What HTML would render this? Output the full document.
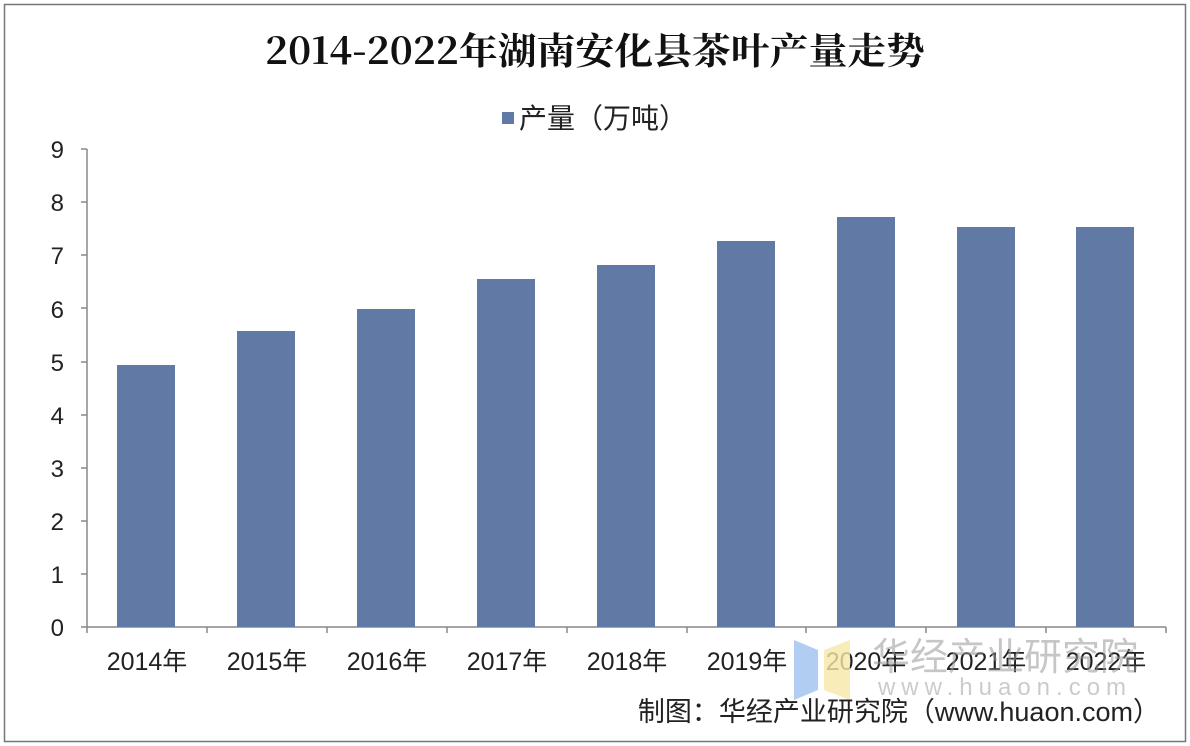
<!DOCTYPE html>
<html><head><meta charset="utf-8"><style>
body{margin:0;background:#fff;}
</style></head><body>
<svg width="1190" height="746" xmlns="http://www.w3.org/2000/svg" style="display:block">
<rect x="0" y="0" width="1190" height="746" fill="#fff"/>
<rect x="4.5" y="4.5" width="1181" height="737" fill="none" stroke="#777" stroke-width="1.5"/>
<text x="595" y="64" text-anchor="middle" font-family="'Noto Serif CJK SC',serif" font-weight="bold" font-size="37" fill="#111" textLength="660" lengthAdjust="spacingAndGlyphs">2014-2022年湖南安化县茶叶产量走势</text>
<rect x="502" y="112" width="12" height="12" fill="#6079a5"/>
<text x="519" y="128" font-family="Liberation Sans,'Noto Sans CJK SC',sans-serif" font-size="28" fill="#222">产量（万吨）</text>
<g font-family="Liberation Sans,'Noto Sans CJK SC',sans-serif" font-size="24" fill="#222" text-anchor="end">
<text x="64" y="636">0</text><text x="64" y="583">1</text><text x="64" y="530">2</text><text x="64" y="477">3</text><text x="64" y="424">4</text><text x="64" y="371">5</text><text x="64" y="318">6</text><text x="64" y="264">7</text><text x="64" y="211">8</text><text x="64" y="158">9</text>
</g>
<g stroke="#888" stroke-width="1.5">
<line x1="87" y1="149" x2="87" y2="627"/>
<line x1="81" y1="627" x2="1166" y2="627"/>
<line x1="81" y1="574" x2="87" y2="574"/><line x1="81" y1="521" x2="87" y2="521"/><line x1="81" y1="468" x2="87" y2="468"/><line x1="81" y1="415" x2="87" y2="415"/><line x1="81" y1="362" x2="87" y2="362"/><line x1="81" y1="308" x2="87" y2="308"/><line x1="81" y1="255" x2="87" y2="255"/><line x1="81" y1="202" x2="87" y2="202"/><line x1="81" y1="149" x2="87" y2="149"/>
<line x1="87" y1="627" x2="87" y2="633"/><line x1="207" y1="627" x2="207" y2="633"/><line x1="327" y1="627" x2="327" y2="633"/><line x1="447" y1="627" x2="447" y2="633"/><line x1="567" y1="627" x2="567" y2="633"/><line x1="687" y1="627" x2="687" y2="633"/><line x1="806" y1="627" x2="806" y2="633"/><line x1="926" y1="627" x2="926" y2="633"/><line x1="1046" y1="627" x2="1046" y2="633"/><line x1="1166" y1="627" x2="1166" y2="633"/>
</g>
<g fill="#6079a5">
<rect x="117" y="365" width="58" height="262"/>
<rect x="237" y="331" width="58" height="296"/>
<rect x="357" y="309" width="58" height="318"/>
<rect x="477" y="279" width="58" height="348"/>
<rect x="597" y="265" width="58" height="362"/>
<rect x="717" y="241" width="58" height="386"/>
<rect x="837" y="217" width="58" height="410"/>
<rect x="957" y="227" width="58" height="400"/>
<rect x="1076" y="227" width="58" height="400"/>
</g>
<g font-family="Liberation Sans,'Noto Sans CJK SC',sans-serif" font-size="25" fill="#222" text-anchor="middle">
<text x="147" y="670">2014年</text><text x="267" y="670">2015年</text><text x="387" y="670">2016年</text><text x="507" y="670">2017年</text><text x="627" y="670">2018年</text><text x="747" y="670">2019年</text><text x="866" y="670">2020年</text><text x="986" y="670">2021年</text><text x="1106" y="670">2022年</text>
</g>
<polygon points="794,640 818,650 818,690 794,700" fill="#a8c8ef" opacity="0.9"/>
<polygon points="824,650 850,640 850,700 824,690" fill="#f6e9a8" opacity="0.8"/>
<text x="1005" y="670" text-anchor="middle" font-family="Liberation Sans,'Noto Sans CJK SC',sans-serif" font-size="38" fill="#999" opacity="0.55">华经产业研究院</text>
<text x="1005" y="695" text-anchor="middle" font-family="Liberation Sans,sans-serif" font-size="24" fill="#999" opacity="0.5" letter-spacing="6">www.huaon.com</text>
<text x="1160" y="721" text-anchor="end" font-family="Liberation Sans,'Noto Sans CJK SC',sans-serif" font-size="27" fill="#222">制图：华经产业研究院（www.huaon.com）</text>
</svg>
</body></html>
